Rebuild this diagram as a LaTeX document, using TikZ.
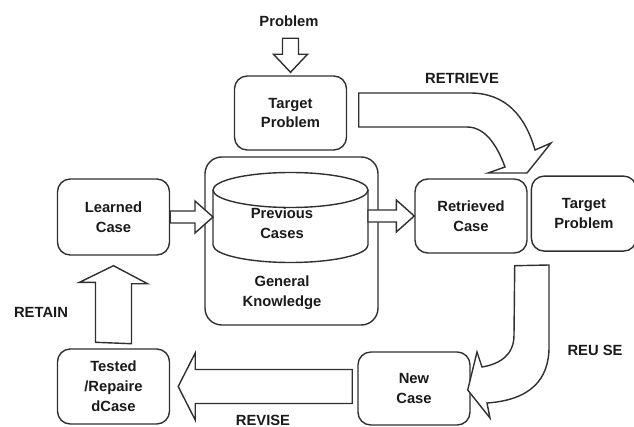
\documentclass[tikz,border=0pt]{standalone}
\usepackage{fontspec}
\setmainfont{Liberation Sans}
\usetikzlibrary{positioning, calc}
\definecolor{cline}{HTML}{303030}
\definecolor{ctext}{HTML}{1A1A1A}
\tikzset{
  every picture/.style={font=\fontsize{10.5}{14.2}\selectfont\bfseries, line width=1pt},
  box/.style={draw=cline, rounded corners=3.2mm, align=center, text=ctext, inner sep=2pt, minimum width=28mm, minimum height=18.5mm},
  db/.style={draw=cline},
  hollow/.style={draw=cline, fill=white, line join=miter, miter limit=6},
  txt/.style={align=center, inner sep=0pt, text=ctext},
}

\begin{document}
\begin{tikzpicture}[x=0.25mm, y=-0.25mm]
  \useasboundingbox (0,0) rectangle (634,427);
  \node[box] (target) at (290.5,113) {Target\\Problem};
  \node[box, minimum width=43.25mm, minimum height=42mm, rounded corners=4.2mm] (know) at (291.5,241) {};
  \node[box, minimum height=19mm] (learned) at (113.5,217) {Learned\\Case};
  \node[box] (retrieved) at (471,216) {Retrieved\\Case};
  \node[box, minimum width=26.25mm, minimum height=18.75mm, right=0.75mm of retrieved, yshift=0.6mm] (target2) {Target\\Problem};
  \node[box, minimum height=18.75mm] (tested) at (113.5,386.5) {Tested\\/Repaire\\dCase};
  \node[box, minimum height=18.25mm] (newcase) at (414,388.5) {New\\Case};
  \coordinate (cylW) at (213,217);
  \coordinate (cylE) at (368,216);
  \draw[db] (213,190) -- (213,245) arc[start angle=180, end angle=0, x radius=77.5, y radius=17.5] -- (368,190);
  \draw[db] (290.5,190) ellipse[x radius=77.5, y radius=17.5];
  \node[txt] (prev) at (282,223) {Previous\\Cases};
  \node[txt] (gk) at (282,293) {General\\Knowledge};
  \node[txt] (prob) at (289,21) {Problem};
  \node[txt] (lretrieve) at (462,78) {RETRIEVE};
  \node[txt] (lretain) at (41,312) {RETAIN};
  \node[txt] (lreuse) at (595,350) {REU SE};
  \node[txt, anchor=base] (lrevise) at (263,425) {REVISE};
  \draw[hollow] ($(target.north)+(0,-3)$) -- ++(17,-18) -- ++(-9,0) -- ++(0,-16) -- ++(-16,0) -- ++(0,16) -- ++(-9,0) -- cycle;
  \foreach \a/\b in {learned.east/cylW, cylE/retrieved.west}
    \draw[hollow] ($(\a)+(0,-6)$) -- ($(\b)+(-18,-6)$) -- ++(0,-10) -- (\b) -- ++(-18,16) -- ++(0,-10) -- ($(\a)+(0,6)$) -- cycle;
  \draw[hollow] ($(tested.north)+(-18,-6)$) -- ++(0,-60) -- ++(-16,0) -- ($(learned.south)+(0,10)$) -- ++(34,18) -- ++(-16,0) -- ++(0,60) -- cycle;
  \draw[hollow] ($(tested.east)+(8,0)$) -- ++(17,-33.5) -- ++(0,16.5) -- ++(157,0) -- ++(0,34) -- ++(-157,0) -- ++(0,16.5) -- cycle;
  \draw[hollow] ($(target.east)+(11.5,-20)$) -- (470,93) .. controls (505,93) and (525,115) .. (535,150) -- (551,143) -- (527,173) -- (488,173) -- (505,167) .. controls (497,145) and (485,127) .. (467,127) -- ($(target.east)+(11.5,14)$) -- cycle;
  \draw[hollow] ($(retrieved.south east)+(-13,12)$) -- (549,265) -- (549,347) .. controls (549,380) and (530,400) .. (487,403) -- (490,418) -- ($(newcase.east)+(-3,1.5)$) -- (477,352) -- (482,367) .. controls (500,364) and (514,355) .. (514,335) -- cycle;
\end{tikzpicture}
\end{document}
